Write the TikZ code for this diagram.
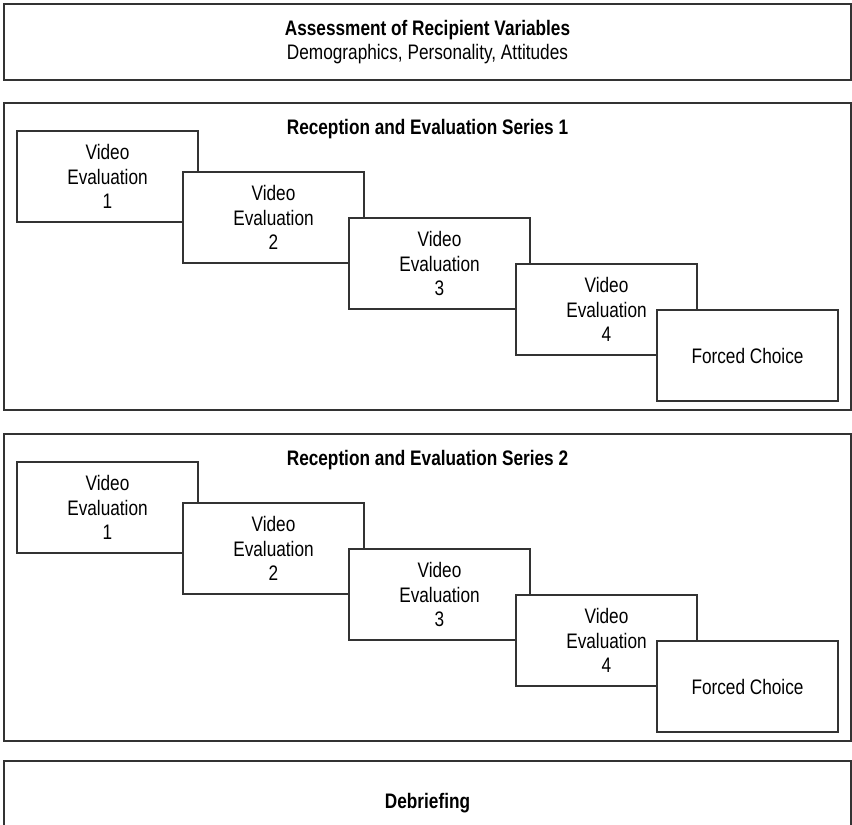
\documentclass[tikz,border=0pt]{standalone}
\usepackage{fontspec}
\setmainfont{Liberation Sans}[FakeStretch=0.82]
\begin{document}
\begin{tikzpicture}[x=1pt,y=-1pt,
  every node/.style={font=\fontsize{21}{24.5}\selectfont},
  box/.style={draw=black!80, line width=1.3pt, fill=white, rectangle, inner sep=0pt, align=center},
  outer/.style={box, minimum width=847pt},
  vbox/.style={box, minimum width=181pt, minimum height=91pt},
  title/.style={inner sep=0pt, font=\fontsize{21}{24.5}\selectfont\bfseries}]
\useasboundingbox (0,0) rectangle (852,825);
\fill[white] (0,0) rectangle (852,825);
% top
\node[outer, minimum height=76pt] (assess) at (427.5,42)
  {\textbf{Assessment of Recipient Variables}\\Demographics, Personality, Attitudes};
% series 1
\node[outer, minimum height=307pt] (s1) at (427.5,256.5) {};
\node[title] (t1) at (427.5,129) {Reception and Evaluation Series 1};
\node[vbox] (a1) at (107.5,176.5) {Video\\Evaluation\\1};
\node[vbox] (a2) at (273.5,217.5) {Video\\Evaluation\\2};
\node[vbox] (a3) at (439.5,263.5) {Video\\Evaluation\\3};
\node[vbox] (a4) at (606.5,309.5) {Video\\Evaluation\\4};
\node[vbox] (a5) at (747.5,355.5) {Forced Choice};
% series 2
\node[outer, minimum height=307pt] (s2) at (427.5,587.5) {};
\node[title] (t2) at (427.5,460) {Reception and Evaluation Series 2};
\node[vbox] (b1) at (107.5,507.5) {Video\\Evaluation\\1};
\node[vbox] (b2) at (273.5,548.5) {Video\\Evaluation\\2};
\node[vbox] (b3) at (439.5,594.5) {Video\\Evaluation\\3};
\node[vbox] (b4) at (606.5,640.5) {Video\\Evaluation\\4};
\node[vbox] (b5) at (747.5,686.5) {Forced Choice};
% debriefing
\node[outer, minimum height=84pt, font=\fontsize{21}{24.5}\selectfont\bfseries] (deb) at (427.5,803) {Debriefing};
\end{tikzpicture}
\end{document}
